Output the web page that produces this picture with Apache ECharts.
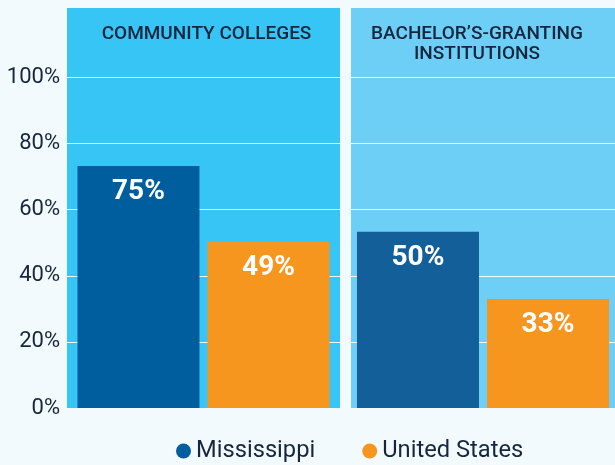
<!DOCTYPE html>
<html>
<head>
<meta charset="utf-8">
<script src="https://cdn.jsdelivr.net/npm/echarts@6/dist/echarts.min.js"></script>
<style>
html,body{margin:0;padding:0;background:#f3fafd;}
#chart{width:615px;height:465px;}
</style>
</head>
<body>
<div id="chart"></div>
<script>
const panels = ['COMMUNITY COLLEGES', 'BACHELOR\u2019S-GRANTING\nINSTITUTIONS'];
const seriesNames = ['Mississippi', 'United States'];
const mississippiValues = [73.2, 53.3];
const unitedStatesValues = [50.3, 33.0];
const mississippiLabels = ['75%', '50%'];
const unitedStatesLabels = ['49%', '33%'];
const gridLineValues = [20, 40, 60, 80, 100];

const panelColors = ['#36c5f4', '#6dcff6'];
const msColors = ['#005e9e', '#135f99'];
const usColor = '#f7961f';
const textColor = '#15263e';

const chart = echarts.init(document.getElementById('chart'));

const gridRects = [
  {left: 67, top: 8, width: 273, bottom: 57},
  {left: 351, top: 8, width: 267, bottom: 57}
];
const titlePadding = [[0, 0, 0, 6], [0, 12, 0, 0]];

const grids = [], xAxes = [], yAxes = [], series = [];
for (let i = 0; i < 2; i++) {
  grids.push(Object.assign({show: true, backgroundColor: panelColors[i], borderWidth: 0, containLabel: false}, gridRects[i]));
  xAxes.push({
    type: 'category', gridIndex: i, data: [panels[i]], position: 'top',
    axisLine: {show: false}, axisTick: {show: false}, splitLine: {show: false},
    axisLabel: {inside: true, margin: 16, verticalAlign: 'top', fontFamily: 'Roboto', fontSize: 19,
      fontWeight: 500, color: textColor, lineHeight: 20, align: 'center', padding: titlePadding[i]}
  });
  yAxes.push({
    type: 'value', gridIndex: i, min: 0, max: 121, interval: 20,
    axisLine: {show: false}, axisTick: {show: false}, splitLine: {show: false},
    axisLabel: {show: i === 0, margin: 7, fontFamily: 'Roboto', fontSize: 22, color: textColor,
      formatter: v => (v <= 100 ? v + '%' : '')}
  });
  series.push({
    type: 'bar', name: seriesNames[0], xAxisIndex: i, yAxisIndex: i,
    data: [mississippiValues[i]], barWidth: 122, barGap: '6.6%',
    itemStyle: {color: msColors[i]},
    label: {show: true, position: 'insideTop', distance: 12, formatter: mississippiLabels[i],
      color: '#ffffff', fontFamily: 'Roboto', fontSize: 28, fontWeight: 'bold'},
    markLine: {
      silent: true, symbol: 'none', z: 1, label: {show: false},
      lineStyle: {color: '#ffffff', width: 1, type: 'solid', opacity: 0.9},
      emphasis: {disabled: true},
      data: gridLineValues.map(v => ({yAxis: v}))
    }
  });
  series.push({
    type: 'bar', name: seriesNames[1], xAxisIndex: i, yAxisIndex: i,
    data: [unitedStatesValues[i]], barWidth: 122, barGap: '6.6%',
    itemStyle: {color: usColor},
    label: {show: true, position: 'insideTop', distance: 12, formatter: unitedStatesLabels[i],
      color: '#ffffff', fontFamily: 'Roboto', fontSize: 28, fontWeight: 'bold'}
  });
}

chart.setOption({
  animation: false,
  backgroundColor: '#f3fafd',
  grid: grids,
  xAxis: xAxes,
  yAxis: yAxes,
  legend: {
    data: seriesNames, left: 176, top: 439, padding: 0, icon: 'circle', itemWidth: 15, itemHeight: 15, itemGap: 47,
    textStyle: {fontFamily: 'Roboto', fontSize: 23.7, color: textColor},
    selectedMode: false
  },
  series: series
});
</script>
</body>
</html>
